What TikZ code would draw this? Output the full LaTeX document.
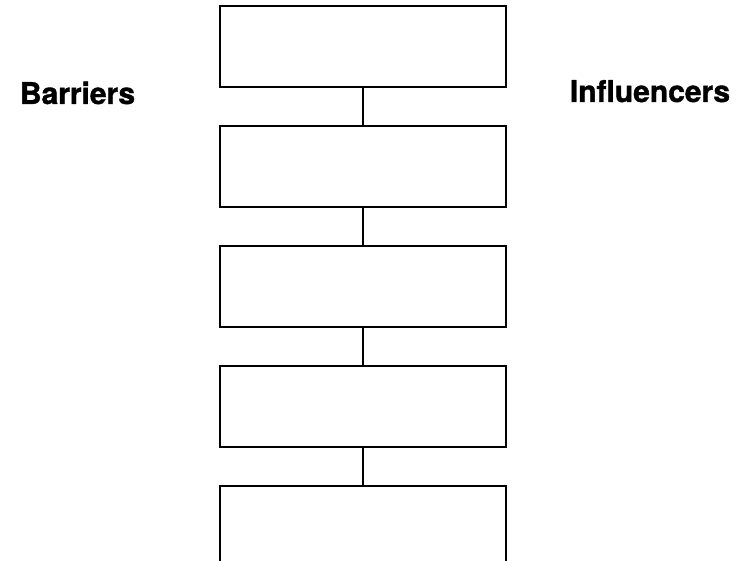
\documentclass[tikz,border=0pt]{standalone}
\usepackage{fontspec}
\setsansfont{TeX Gyre Heros}[BoldFeatures={FakeBold=1.2}]
\usetikzlibrary{positioning}

\begin{document}
\begin{tikzpicture}[x=1pt,y=-1pt,node distance=37pt,
 box/.style={draw=black,line width=2pt,minimum width=286pt,minimum height=81pt,inner sep=0pt},
 head/.style={font=\sffamily\bfseries\fontsize{30}{36}\selectfont,anchor=base,inner sep=0pt},
 link/.style={draw=black,line width=2pt}]
\clip (0,0) rectangle (744,561);
\node[box] (b1) at (363,46.5) {};
\node[box,below=of b1] (b2) {};
\node[box,below=of b2] (b3) {};
\node[box,below=of b3] (b4) {};
\node[box,below=of b4] (b5) {};
\node[head] (barriers) at (77.5,104) {Barriers};
\node[head] (influencers) at (650,102) {Influencers};
\foreach \i/\j in {b1/b2,b2/b3,b3/b4,b4/b5} \draw[link] (\i) -- (\j);
\end{tikzpicture}
\end{document}
